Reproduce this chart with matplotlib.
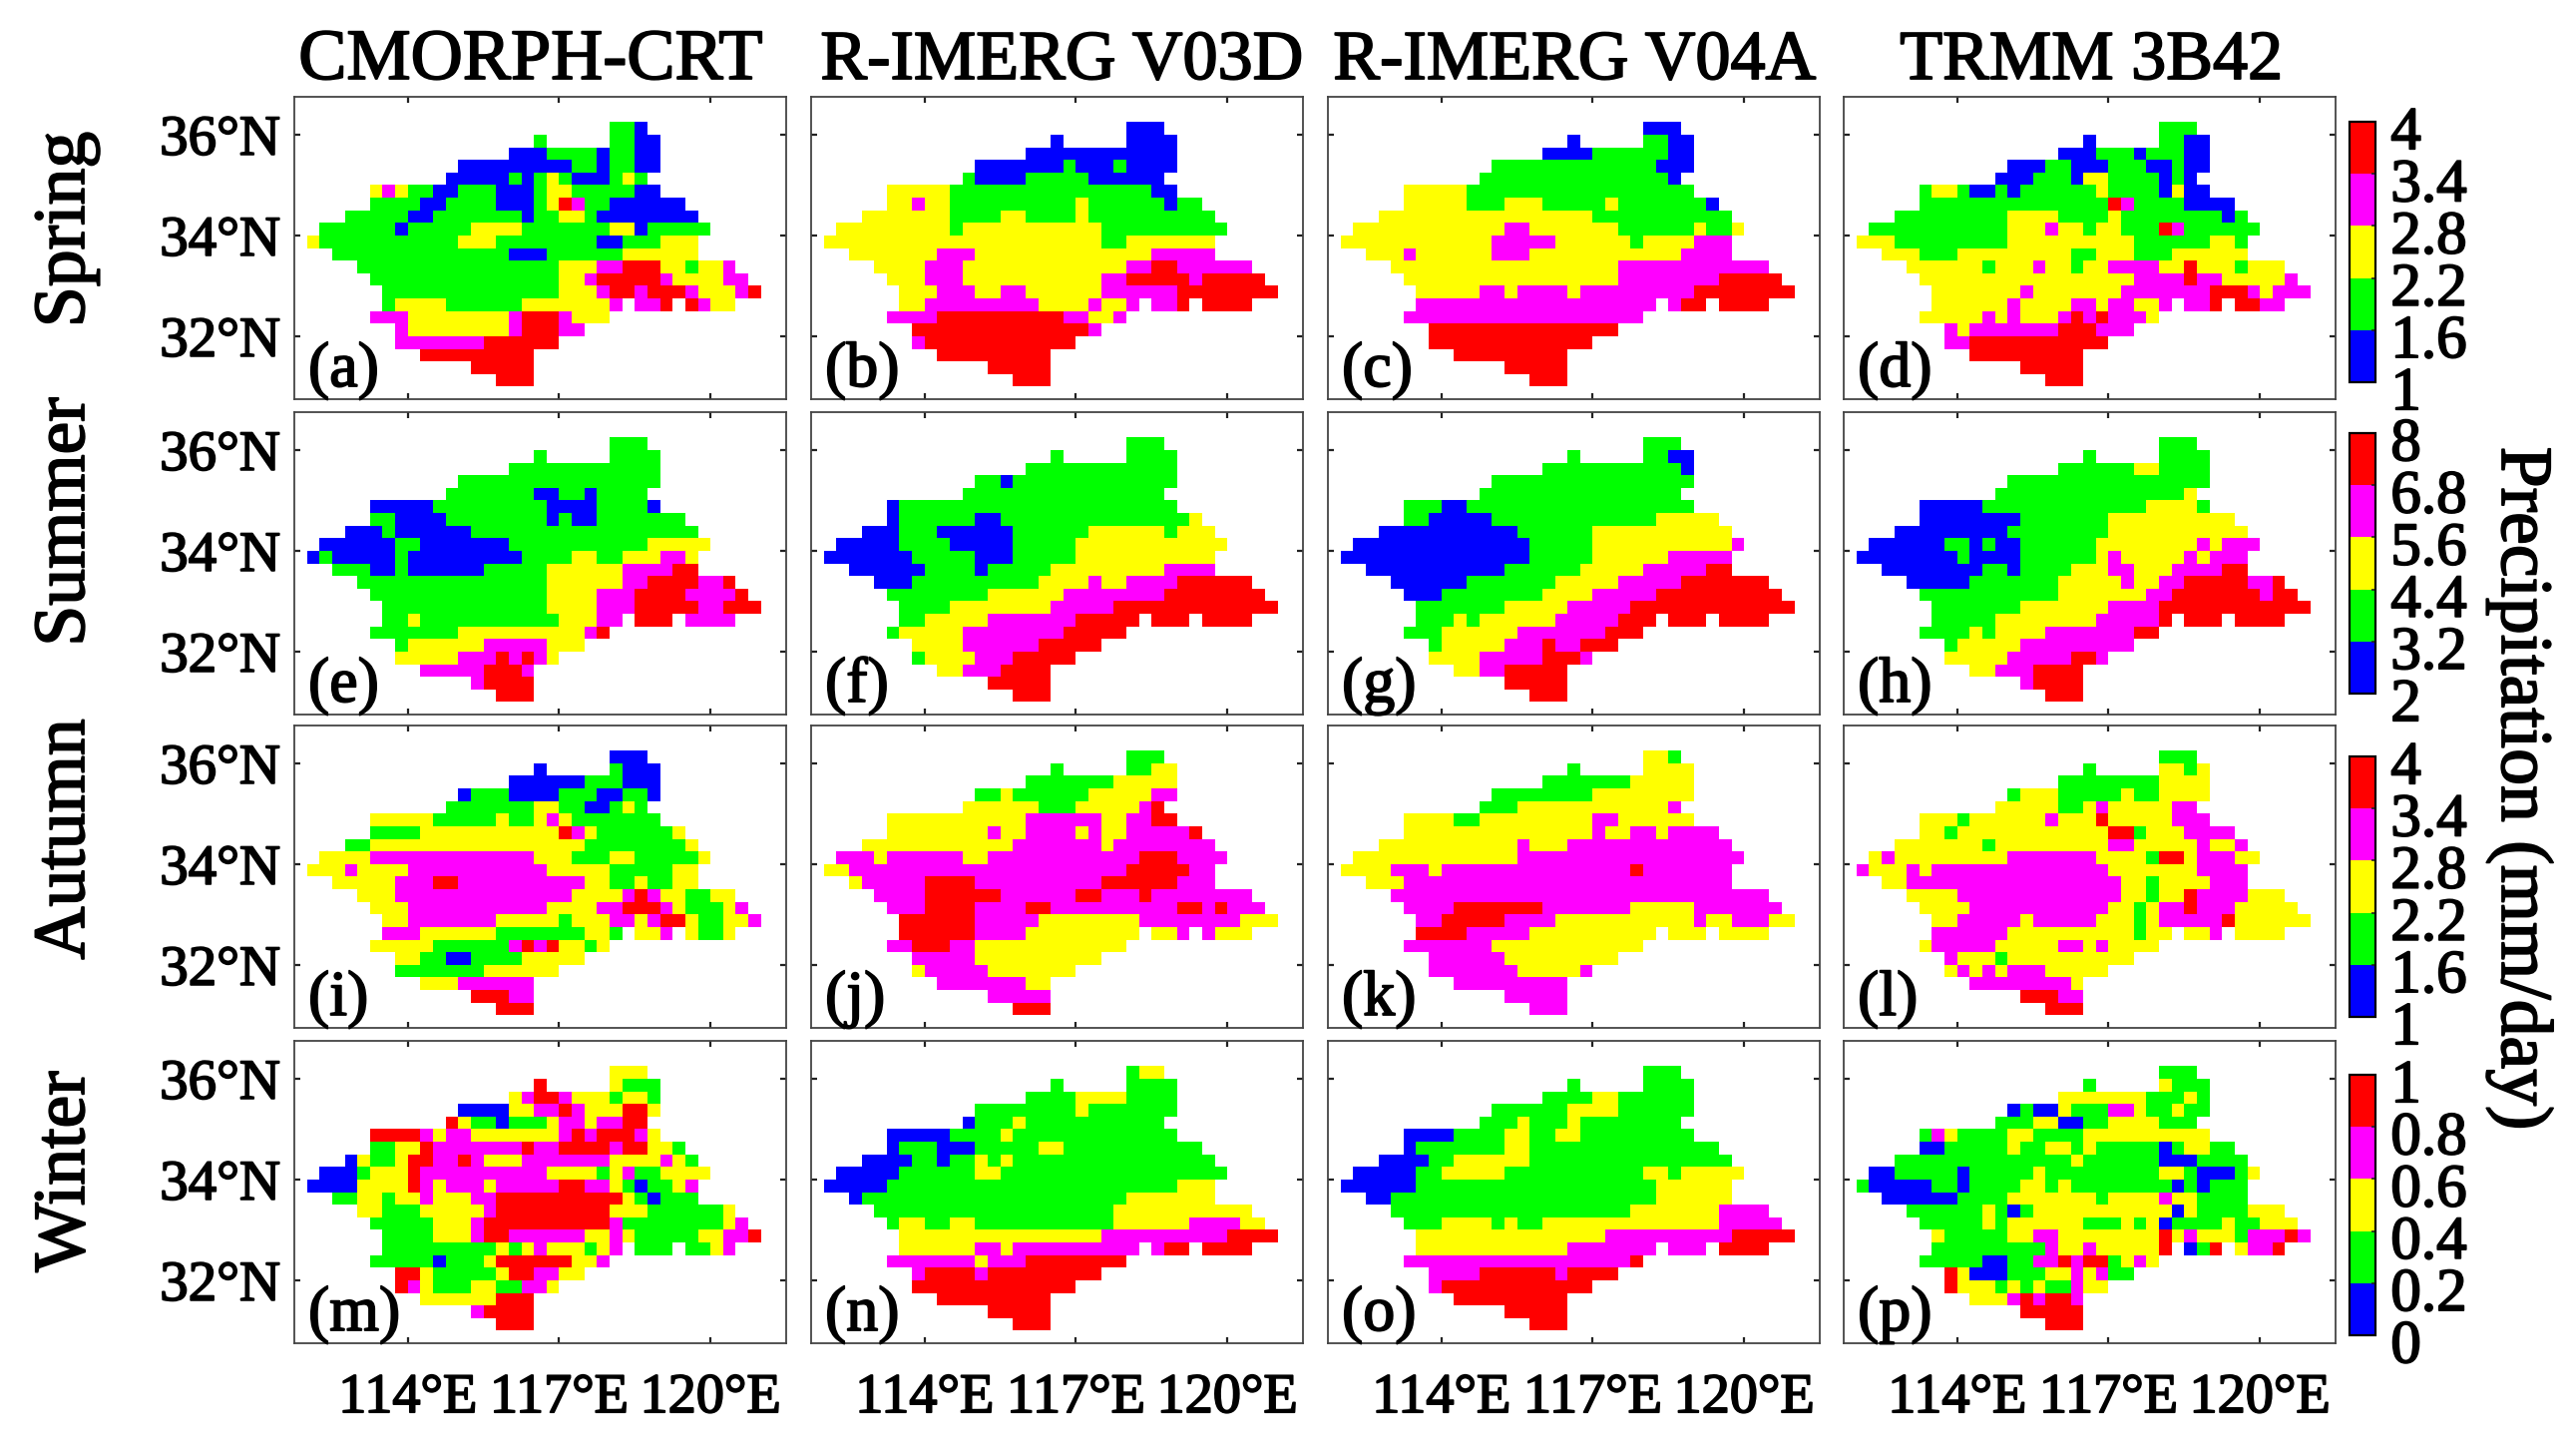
import re

import numpy as np
import matplotlib
matplotlib.use("Agg")
import matplotlib.pyplot as plt
import matplotlib.patheffects as pe
from matplotlib.colors import BoundaryNorm, ListedColormap
from matplotlib.text import Text
from matplotlib.transforms import ScaledTranslation

plt.rcParams['font.family'] = ['Liberation Serif', 'DejaVu Serif']

W, H = 2582, 1459

products = ['CMORPH-CRT', 'R-IMERG V03D', 'R-IMERG V04A', 'TRMM 3B42']
seasons = ['Spring', 'Summer', 'Autumn', 'Winter']
letters = 'abcdefghijklmnop'
xtick_values = [114, 117, 120]
ytick_values = [32, 34, 36]
colors = ['#0000ff', '#00ff00', '#ffff00', '#ff00ff', '#ff0000']

levels_spring = [1, 1.6, 2.2, 2.8, 3.4, 4]
levels_summer = [2, 3.2, 4.4, 5.6, 6.8, 8]
levels_autumn = [1, 1.6, 2.2, 2.8, 3.4, 4]
levels_winter = [0, 0.2, 0.4, 0.6, 0.8, 1]
labels_spring = ['1', '1.6', '2.2', '2.8', '3.4', '4']
labels_summer = ['2', '3.2', '4.4', '5.6', '6.8', '8']
labels_autumn = ['1', '1.6', '2.2', '2.8', '3.4', '4']
labels_winter = ['0', '0.2', '0.4', '0.6', '0.8', '1']

# precipitation class per 0.25 degree cell, run length coded, north to south
# b/g/y/m/r = lowest to highest class, "." = outside the basin
panel_a = ['25. 2g 1b', '19. 1g 5. 2g 2b', '17. 3b 4g 1b 2g 2b', '13. 9b 2g 1b 2g 2b',
           '12. 5b 1g 1b 1g 1y 1g 3b 1g 1y 1g', '6. 1y 1m 1y 2g 2b 3g 3b 1g 2y 5g 2b',
           '6. 4g 2b 4g 3b 1g 1y 1r 1m 2g 6b', '4. 5g 2b 7g 1b 2g 2y 1g 8b',
           '2. 6g 1b 5g 4y 7g 2y 1b 5g', '1. 1y 11g 3y 8g 2b 3g 3y', '3. 14g 3b 6g 6y',
           '5. 16g 3y 2m 3r 2y 1g 2y 1m', '6. 15g 2y 1m 5r 1m 4y 2m',
           '7. 14g 3y 1m 2r 1m 3r 1m 3y 1m 1r', '7. 1g 4y 6g 7y 1m 1. 2m 1r 1. 1r 1m 2y',
           '6. 3m 8y 1m 3r 1m 3y', '8. 1m 8y 1m 3r 2m', '8. 7m 6r', '10. 9r', '14. 5r', '16. 3r']
panel_b = ['25. 3b', '19. 1b 5. 4b', '17. 12b', '13. 7b 1g 3b 1g 4b', '12. 1g 4b 5g 6b',
           '6. 5y 16g 2b', '6. 2y 1m 2y 10g 1y 6g 1b 2g', '4. 7y 4g 2y 4g 1y 10g',
           '2. 9y 1g 11y 10g', '1. 22y 2g 7y', '3. 7y 3m 14y 5m', '5. 4y 3m 13y 2m 2r 6m',
           '6. 3y 3m 11y 2m 5r 1m 5r', '7. 3y 3m 2y 2m 6y 6m 8r',
           '7. 2y 9m 4y 1m 2y 1m 1. 2m 1r 1. 4r', '6. 4m 10r 2m 2y 1m', '8. 14r 1m',
           '8. 1m 12r', '10. 9r', '14. 5r', '16. 3r']
panel_c = ['25. 3b', '19. 1b 5. 2g 2b', '17. 4b 6g 2b', '13. 13g 3b', '12. 15g 1b', '6. 5y 18g',
           '6. 5y 3g 3y 5g 1y 7g 1b', '4. 17y 11g', '2. 12y 2m 7y 6g 1y 2g 1y',
           '1. 12y 5m 6y 1g 4y 3m', '3. 3y 1m 6y 3m 12y 4m', '5. 18y 12m', '6. 17y 8m 5r',
           '7. 5y 2m 1y 4m 1y 9m 8r', '7. 19m 1. 1m 2r 1. 4r', '6. 19m', '8. 15r', '8. 13r',
           '10. 9r', '14. 5r', '16. 3r']
panel_d = ['25. 3g', '19. 1b 5. 2g 2b', '17. 3b 3g 1b 3g 2b', '13. 3b 2g 3b 3g 2b 1g 2b',
           '12. 3b 3g 1b 2y 4g 1b 1g 1b', '6. 1g 2y 1g 2b 1g 1b 6g 1y 4g 1b 1y 2b',
           '6. 15g 1r 1m 4g 4b', '4. 9g 4y 4g 1y 8g 1b 1g',
           '2. 11g 3y 1m 2y 1g 2y 3g 1r 1m 6g', '1. 3y 9g 10y 6g 2y 1g',
           '3. 3y 3g 9y 2g 3y 3g 6y', '5. 6y 1g 3y 1m 2y 1g 2y 4m 2y 1r 3y 1g 3y',
           '6. 17y 4m 1r 2m 5y 1m', '7. 7y 1m 7y 7m 3r 1m 1y 3m',
           '7. 6y 1m 4y 2m 1y 2m 2y 1m 1. 2m 1r 1. 2r 2m',
           '6. 5y 1m 1y 1m 3y 1m 1r 1m 1r 3m 1y', '8. 1m 1y 7m 3r 3m', '8. 2m 11r',
           '10. 9r', '14. 5r', '16. 3r']
panel_e = ['25. 3g', '19. 1g 5. 4g', '17. 12g', '13. 16g', '12. 7g 2b 2g 1b 4g',
           '6. 5b 9g 4b 4g 1b', '6. 2g 4b 8g 1b 1g 2b 7g', '4. 3b 1g 6b 18g',
           '2. 6b 2g 7b 11g 5y', '1. 1b 1g 5b 1g 9b 4g 2y 2g 3y 2m 1y',
           '3. 3g 2b 1g 6b 5g 6y 4m 2r', '5. 15g 6y 2m 4r 2m 1r', '6. 14g 4y 3m 4r 4m 1r',
           '7. 13g 4y 3m 5r 2m 3r', '7. 2g 1y 11g 3y 2m 1. 3r 1. 4m', '6. 7g 10y 1m 1r',
           '8. 1g 6y 5m 3y', '8. 5y 3m 1r 1m 1r 1m 1y', '10. 5m 3r 1m', '14. 1m 4r', '16. 3r']
panel_f = ['25. 3g', '19. 1g 5. 4g', '17. 12g', '13. 2g 1b 13g', '12. 16g', '6. 1b 22g',
           '6. 1b 6g 2b 15g 1y', '4. 3b 3g 6b 6g 6y 1g 3y', '2. 5b 4g 5b 5g 12y',
           '1. 7b 5g 3b 5g 11y', '3. 6b 4g 1b 5g 9y 4m', '5. 3b 10g 4y 1m 2y 4m 6r',
           '6. 8g 6y 8m 8r', '7. 4g 8y 5m 13r', '7. 2g 5y 7m 5r 1. 3r 1. 4r',
           '6. 1g 5y 8m 5r', '8. 4y 6m 5r', '8. 1g 4y 3m 5r', '10. 2y 3m 4r', '14. 5r', '16. 3r']
panel_g = ['25. 3g', '19. 1g 5. 2g 2b', '17. 11g 1b', '13. 16g', '12. 16g', '6. 3g 2b 18g',
           '6. 2g 5b 13g 5y', '4. 11b 6g 11y', '2. 14b 5g 11y 1m', '1. 15b 5g 6y 5m',
           '3. 11b 6g 5y 5m 2r', '5. 6b 7g 5y 5m 7r', '6. 3b 8g 4y 5m 10r', '7. 7g 5y 5m 13r',
           '7. 3g 1y 1g 6y 5m 3r 1. 3r 1. 4r', '6. 3g 6y 7m 3r', '8. 1g 5y 3m 1r 2m 3r',
           '8. 4y 5m 3r 1m', '10. 2y 2m 5r', '14. 5r', '16. 3r']
panel_h = ['25. 3g', '19. 1g 5. 4g', '17. 6g 2y 4g', '13. 16g', '12. 15g 1y', '6. 5b 13g 4y 1g',
           '6. 8b 7g 10y', '4. 9b 8g 11y', '2. 6b 2g 1b 1g 2b 6g 8y 1m 1y 3m',
           '1. 8b 1g 4b 6g 1y 1m 5y 1m 1y 3m', '3. 8b 2g 1b 4g 3y 2m 3y 4m 2r',
           '5. 5b 7g 5y 1m 2y 2m 5r 2m 1r', '6. 11g 7y 2m 7r 1m 2r', '7. 7g 7y 4m 12r',
           '7. 5g 8y 5m 1r 1. 3r 1. 4r', '6. 4g 1y 1g 4y 7m 2r', '8. 1g 5y 9m',
           '8. 5y 5m 2r 1m', '10. 2y 3m 4r', '14. 1m 4r', '16. 3r']
panel_i = ['25. 3b', '19. 1b 5. 1g 3b', '17. 6b 3g 3b', '13. 1b 3g 4b 3g 2b 2g 1b',
           '12. 7g 2y 2g 2b 1g 1y 1g', '6. 5y 5g 1y 2g 1y 1m 1y 7g',
           '6. 4g 11y 1r 1m 1y 6g 1y', '4. 2g 17y 8g 1y', '2. 4y 13m 3y 3g 2y 5g 1y',
           '1. 3y 1m 4y 11m 5y 5g 2y', '3. 5y 3m 2r 10m 2y 2g 1y 2g 2y',
           '5. 3y 14m 4y 1m 1r 1m 2y 2g 2y', '6. 3y 11m 4y 2m 3r 1m 1y 3g 1y 1m',
           '7. 2y 7m 5y 1g 3y 2m 1y 1m 2r 1y 2g 2y 1m',
           '7. 3m 6y 7g 2y 1g 1. 2y 1m 1. 1y 2g 1y', '6. 5y 6g 1m 1r 1m 1r 2y 1g 1y',
           '8. 2y 2g 2b 4g 5y', '8. 7g 6y', '10. 3y 6m', '14. 3r 2m', '16. 3r']
panel_j = ['25. 3g', '19. 1g 5. 2g 2y', '17. 7g 5y', '13. 2g 1y 6g 5y 2m', '12. 6y 3g 5y 1m 1r',
           '6. 11y 6m 2y 2m 2r', '6. 8y 1m 2y 4m 1y 1m 2y 5m 1r', '4. 12y 7m 1y 8m',
           '2. 3m 1y 6m 2y 12m 3r 4m', '1. 2y 22m 5r 2m', '3. 1y 5m 4r 10m 6r 3m',
           '5. 4m 6r 6m 2r 3m 1r 8m', '6. 3m 4r 4m 2r 10m 2r 1m 1r 3m', '7. 6r 5m 8y 8m 3y',
           '7. 6r 4m 9y 1. 2y 1m 1. 1m 3y', '6. 2m 3r 2m 12y', '8. 5m 10y', '8. 1y 5m 7y',
           '10. 7m 2y', '14. 5m', '16. 3r']
panel_k = ['25. 2y 1g', '19. 1g 5. 4y', '17. 7g 5y', '13. 8g 8y', '12. 3g 12y 1m',
           '6. 4y 2g 9y 2m 6y', '6. 15y 1m 2y 2m 1y 4m', '4. 11y 1m 3y 13m', '2. 13y 18m',
           '1. 4y 3m 1y 15m 1r 7m', '3. 3y 26m', '5. 30m', '6. 4m 7r 7m 5y 7m',
           '7. 2m 5r 4m 11y 1m 2y 3m 2y', '7. 4r 5m 10y 1. 3y 1. 4y', '6. 7m 12y', '8. 6m 9y',
           '8. 7m 5y 1m', '10. 9m', '14. 5m', '16. 3m']
panel_l = ['25. 3g', '19. 1g 5. 2y 1g 1y', '17. 8g 4y', '13. 1g 3y 5g 1y 2g 4y',
           '12. 5y 2g 1y 1m 5y 2m', '6. 3y 1g 6y 1m 3y 1r 5y 3m', '6. 2y 1g 12y 2r 1g 3y 4m',
           '4. 7y 1g 9y 2m 5y 1m 2y 1m', '2. 1y 1m 9y 7m 4y 1g 2r 1y 3m 2y',
           '1. 1m 3y 1m 1y 14m 7y 4m', '3. 2y 17m 2y 1g 4y 3m', '5. 4y 13m 2y 1g 2y 1r 4m 3y',
           '6. 4y 11m 2y 1g 1y 2m 1r 3m 5y', '7. 2y 5m 1y 5m 3y 1g 1y 5m 1r 6y',
           '7. 6m 10y 1g 2y 1. 2y 1m 1. 4y', '6. 1y 5m 5y 2m 1y 1m 4y', '8. 1m 3y 1g 10y',
           '8. 1y 1m 1y 1m 1y 3m 5y', '10. 8m 1y', '14. 3r 2m', '16. 3r']
panel_m = ['25. 3y', '19. 1r 5. 1y 3g', '17. 1y 1m 2r 1m 3y 1g 2y 1g',
           '13. 4b 2y 2m 1r 1m 3y 2r 1y', '12. 1r 1y 2g 1b 3g 1y 2m 1y 2m 2r',
           '6. 4r 1m 1y 2m 7y 1m 1r 1m 3r 1m 1y', '6. 2g 2y 1r 7m 1r 2m 4r 1m 2r 2y 1g',
           '4. 1b 1y 2g 1y 2r 2m 1r 1m 3y 7m 4y 1m 1y 1g',
           '2. 3b 1g 3y 1r 10m 4y 1g 1y 1m 2g 4y',
           '1. 4b 4y 1r 1m 1y 3m 1y 5m 2r 2m 1y 1g 1b 2g 1y 1m',
           '3. 2g 2y 1g 2y 1m 3y 2m 10r 1y 1g 1b 3g', '5. 2y 3g 5y 1m 9r 3y 6g 1y',
           '6. 5g 3y 1m 10r 1m 8g 1y 1m', '7. 4g 3y 1m 2r 6m 2y 1m 1y 5g 2y 2m 1r',
           '7. 9g 1y 1g 1y 1m 3y 1g 1y 1m 1. 3g 1. 2g 1y 1m', '6. 5g 1b 3g 1y 6r 2y 1m',
           '8. 2r 1y 5g 1y 2r 2m 2y', '8. 1r 1m 1y 3g 2y 2g 2m 1y', '10. 6y 3r', '14. 1m 4r',
           '16. 3r']
panel_n = ['25. 1g 2y', '19. 1g 5. 4g', '17. 4g 4y 4g', '13. 8g 1y 7g', '12. 1b 3g 1y 11g',
           '6. 5b 4g 1y 13g', '6. 1b 3g 3b 5g 2y 11g', '4. 4b 2g 1b 2g 1y 1g 1y 16g',
           '2. 5b 6g 2y 18g', '1. 5b 23g 3y', '3. 1b 21g 7y', '5. 19g 11y',
           '6. 1g 2y 2g 2y 11g 6y 4m 2y', '7. 16y 10m 4r', '7. 6y 2m 1y 10m 1. 1m 2r 1. 4r',
           '6. 7m 1y 3m 8r', '8. 1m 4r 1m 9r', '8. 13r', '10. 9r', '14. 5r', '16. 3r']
panel_o = ['25. 3g', '19. 1g 5. 4g', '17. 4g 2y 6g', '13. 6g 4y 6g', '12. 3g 1y 3g 1y 8g',
           '6. 4b 4g 2y 2g 2y 9g', '6. 1b 7g 2y 15g', '4. 4b 2g 6y 16g',
           '2. 5b 2g 5y 11g 2y 1g 5y', '1. 6b 19g 6y', '3. 2b 21g 6y', '5. 19g 7y 4m',
           '6. 3g 4y 1g 1y 2g 14y 5m', '7. 15y 10m 5r', '7. 12y 7m 1. 3m 1. 4r', '6. 18m 1r',
           '8. 4m 6r 1m 4r', '8. 1m 12r', '10. 9r', '14. 5r', '16. 3r']
panel_p = ['25. 3g', '19. 1g 5. 1y 3g', '17. 7y 3g 1y 1g',
           '13. 1b 1g 2b 1y 3g 2m 1y 2g 1y 2g', '12. 3g 2y 2b 2g 4y 3g',
           '6. 1g 1m 1y 4g 2y 4g 10y', '6. 2b 5g 1y 2g 2y 1g 1y 5g 1b 1g 2y 2g',
           '4. 14g 1y 6g 3b 4g', '2. 2b 5g 1b 5g 1y 9g 2y 1g 3b 1g 1y',
           '1. 1g 5b 2g 1b 4g 2y 1g 1y 8g 1b 1g 1b 3g', '3. 6b 4g 7y 1g 4y 1m 2y 4g',
           '5. 6g 1y 1g 1b 1g 11y 1b 1y 4g 3y', '6. 5g 1y 1g 6y 3g 1y 1g 1y 1b 4g 1y 2g 3y',
           '7. 1y 5g 2y 2m 8y 1r 1y 1m 3y 1g 3m 1r 1m',
           '7. 9g 1m 2y 1m 5y 1r 1. 1b 1g 1r 1. 1y 2m 1r',
           '6. 5g 2b 2g 2m 1r 1m 2r 1g 1y 1m 1y', '8. 1r 1y 3b 3g 2y 1m 1y 1m 2g',
           '8. 1r 3y 1g 1y 1g 1y 2g 1m 2y', '10. 3y 1m 1r 1m 2r 1m', '14. 5r', '16. 3r']

panels = [panel_a, panel_b, panel_c, panel_d, panel_e, panel_f, panel_g, panel_h,
          panel_i, panel_j, panel_k, panel_l, panel_m, panel_n, panel_o, panel_p]
season_levels = [levels_spring, levels_summer, levels_autumn, levels_winter]
season_labels = [labels_spring, labels_summer, labels_autumn, labels_winter]

# grid of the basin maps
lon_edges = np.arange(111.75, 121.51, 0.25)
lat_edges = np.arange(36.75, 30.74, -0.25)

# pixel layout
col_left = [295, 813, 1331, 1848]
row_top = [97, 413, 727, 1043]
ax_w, ax_h = 493, 303
cbar_top = [122, 434, 758, 1077]
cbar_h = 261
title_x = [532, 1064, 1578, 2096]
title_size = [52, 50.5, 50.5, 50.5]
season_y = [230, 523, 841, 1174]


def add_ax(left, top, width, height):
    return fig.add_axes([left / W, 1 - (top + height) / H, width / W, height / H])


def decode(rows, levels):
    # turn the coded rows into precipitation values, first two rows are empty
    grid = np.full((24, 39), np.nan)
    for r, row in enumerate(rows):
        c = 0
        for n, code in re.findall(r'(\d+)([.bgymr])', row):
            n = int(n)
            if code != '.':
                i = 'bgymr'.index(code)
                grid[r + 2, c:c + n] = (levels[i] + levels[i + 1]) / 2
            c += n
    return np.ma.masked_invalid(grid)


fig = plt.figure(figsize=(W / 100, H / 100), dpi=100)
cmap = ListedColormap(colors)
down = ScaledTranslation(0, -6 / 100, fig.dpi_scale_trans)

for row in range(4):
    levels = season_levels[row]
    norm = BoundaryNorm(levels, cmap.N)
    for col in range(4):
        k = row * 4 + col
        ax = add_ax(col_left[col], row_top[row], ax_w, ax_h)
        mesh = ax.pcolormesh(lon_edges, lat_edges, decode(panels[k], levels),
                             cmap=cmap, norm=norm, antialiased=False, linewidth=0)
        ax.set_xlim(lon_edges[0], lon_edges[-1])
        ax.set_ylim(lat_edges[-1], lat_edges[0])
        ax.set_xticks(xtick_values)
        ax.set_yticks(ytick_values)
        ax.tick_params(direction='in', top=True, right=True, length=4, width=1.6,
                       color='#222222')
        ax.tick_params(axis='x', pad=21)
        ax.tick_params(axis='y', pad=10)
        if row == 3:
            ax.set_xticklabels([f'{v}°E' for v in xtick_values], fontsize=40.5)
        else:
            ax.set_xticklabels([])
        if col == 0:
            ax.set_yticklabels([f'{v}°N' for v in ytick_values], fontsize=41)
        else:
            ax.set_yticklabels([])
        for spine in ax.spines.values():
            spine.set_linewidth(1.3)
            spine.set_color('#444444')
        ax.text(14 / ax_w, 13 / ax_h, f'({letters[k]})', transform=ax.transAxes,
                fontsize=46, ha='left', va='baseline')

    cax = add_ax(2355, cbar_top[row], 26, cbar_h)
    cb = fig.colorbar(mesh, cax=cax, ticks=levels, spacing='proportional')
    cb.ax.set_yticklabels(season_labels[row], fontsize=44)
    cb.ax.tick_params(direction='in', length=3, width=1.2, pad=11, color='#222222')
    cb.outline.set_linewidth(1.6)
    # the colorbar labels sit a little below their ticks
    for t in cb.ax.get_yticklabels():
        t.set_transform(t.get_transform() + down)

for col, name in enumerate(products):
    fig.text(title_x[col] / W, 1 - 79 / H, name, fontsize=title_size[col],
             ha='center', va='baseline')

for row, name in enumerate(seasons):
    fig.text(84 / W, 1 - season_y[row] / H, name, fontsize=53, rotation=90,
             ha='center', va='baseline', rotation_mode='anchor')

fig.text(2508 / W, 1 - 790 / H, 'Precipitation (mm/day)', fontsize=53, rotation=-90,
         ha='center', va='baseline', rotation_mode='anchor')

# reference text is heavier than the regular face
for t in fig.findobj(Text):
    t.set_path_effects([pe.withStroke(linewidth=1.3, foreground='black')])

fig.savefig('out.png', dpi=100)
